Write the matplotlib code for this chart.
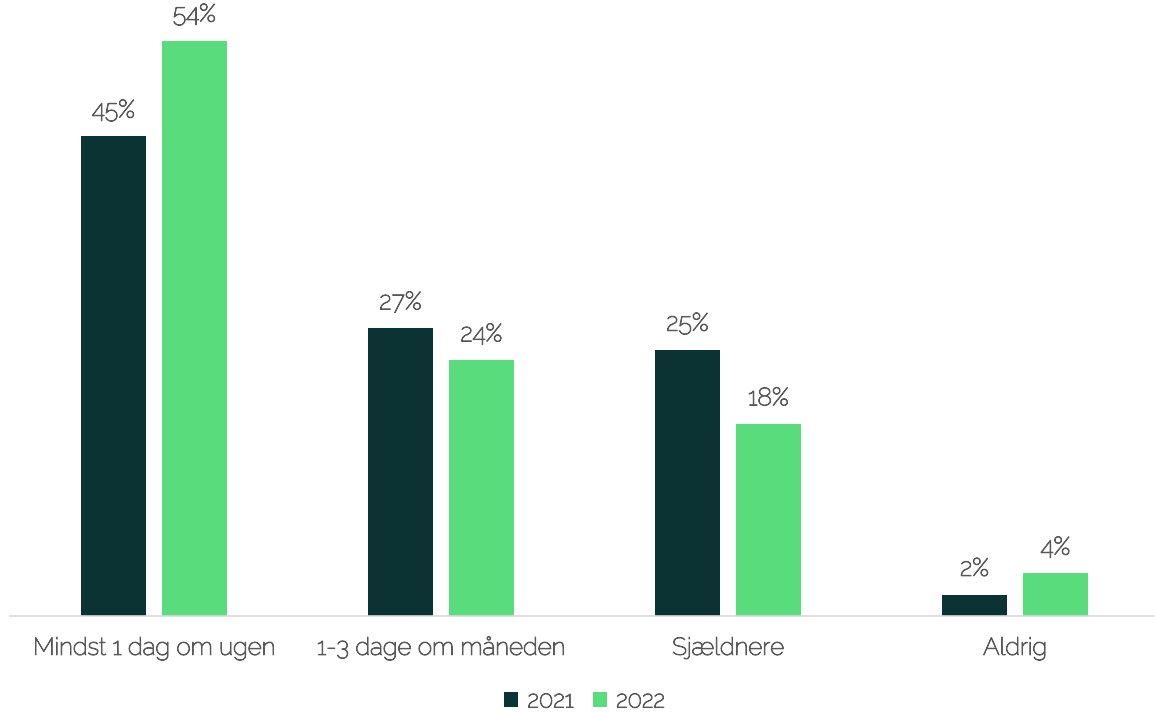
import numpy as np
import matplotlib.pyplot as plt
import matplotlib.patheffects as pe

plt.rcParams['font.family'] = ['Raleway', 'Lato', 'DejaVu Sans']

categories = ['Mindst 1 dag om ugen', '1-3 dage om måneden', 'Sjældnere', 'Aldrig']
years = ['2021', '2022']
values_2021 = [45, 27, 25, 2]
values_2022 = [54, 24, 18, 4]

colors = ['#0b3334', '#59dc7c']
text_col = '#595959'
# installed Raleway is the thin cut, thicken it a little
thick = [pe.withStroke(linewidth=0.7, foreground=text_col)]

fig = plt.figure(figsize=(11.55, 7.13), dpi=100)
ax = fig.add_axes([0.009, 0.136, 0.994, 0.864])

x = np.arange(len(categories))
w = 0.226
off = 0.141
for vals, c, lab, sgn in [(values_2021, colors[0], years[0], -1), (values_2022, colors[1], years[1], 1)]:
    bars = ax.bar(x + sgn * off, vals, width=w, color=c, label=lab)
    for b, v in zip(bars, vals):
        ax.text(b.get_x() + b.get_width() / 2, v + 1.3, f'{v}%', ha='center', va='bottom',
                fontsize=18, color=text_col, path_effects=thick)

ax.set_xlim(-0.5, len(categories) - 0.5)
ax.set_ylim(0, 57.8)
ax.set_xticks(x)
ax.set_xticklabels(categories, fontsize=17.5, color=text_col, path_effects=thick)
ax.tick_params(axis='x', length=0, pad=15)
ax.set_yticks([])
for s in ['top', 'right', 'left']:
    ax.spines[s].set_visible(False)
ax.spines['bottom'].set_color('#d9d9d9')
ax.spines['bottom'].set_linewidth(1.2)

leg = ax.legend(loc='center', bbox_to_anchor=(0.5, -0.138), ncol=2, frameon=False,
                fontsize=17, handlelength=0.6, handleheight=0.6, handletextpad=0.4,
                columnspacing=0.8, borderpad=0)
for t in leg.get_texts():
    t.set_color(text_col)
    t.set_path_effects(thick)

fig.savefig('out.png', dpi=100)
